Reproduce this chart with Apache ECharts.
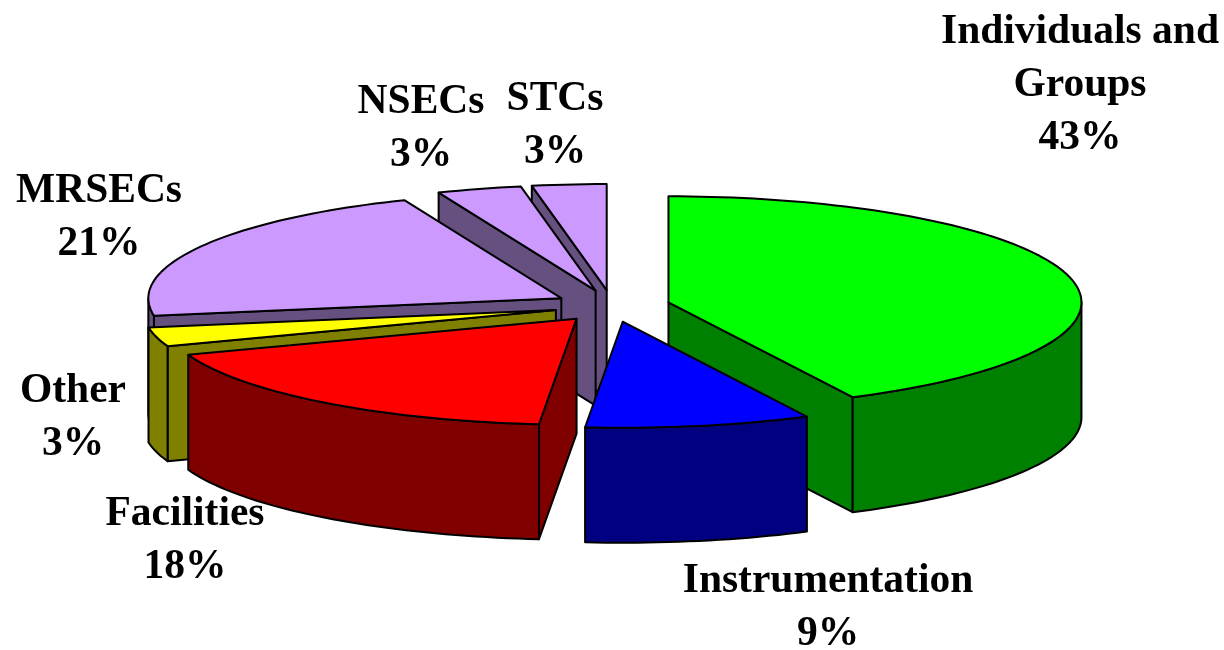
<!DOCTYPE html>
<html>
<head>
<meta charset="utf-8">
<style>html,body{margin:0;padding:0;background:#fff}#c{width:1224px;height:650px}</style>
<script src="https://cdn.jsdelivr.net/npm/echarts@6/dist/echarts.min.js"></script>
</head>
<body>
<div id="c"></div>
<script>
const categories = ['Individuals and\nGroups', 'Instrumentation', 'Facilities', 'Other', 'MRSECs', 'NSECs', 'STCs'];
const values = [42.6, 8.8, 18.0, 2.9, 21.4, 3.3, 2.9];
const percentLabels = ['43%', '9%', '18%', '3%', '21%', '3%', '3%'];
const topColors = ['#00FF00', '#0000FF', '#FF0000', '#FFFF00', '#CC99FF', '#CC99FF', '#CC99FF'];
const sideColors = ['#008000', '#000080', '#800000', '#808000', '#665080', '#665080', '#665080'];
const drawOrder = [6, 5, 4, 3, 2, 0, 1];
const labelCentres = [[1080, 85], [828, 608], [185, 541], [73, 418], [99, 218], [421, 129], [555, 126]];

const geom = { cx: 612, cy: 306, rx: 413, ry: 106, depth: 115, ex: 58, ey: 16 };
const total = values.reduce((a, b) => a + b, 0);
const spans = [];
values.reduce((acc, v) => { spans.push([acc / total * 360, (acc + v) / total * 360]); return acc + v; }, 0);

function rad(d) { return d * Math.PI / 180; }
function rimPoints(ax, ay, a0, a1, dy) {
  const n = Math.max(2, Math.ceil((a1 - a0) / 1.5));
  const pts = [];
  for (let i = 0; i <= n; i++) {
    const a = rad(a0 + (a1 - a0) * i / n);
    pts.push([ax + geom.rx * Math.sin(a), ay - geom.ry * Math.cos(a) + dy]);
  }
  return pts;
}
function poly(points, fill) {
  return { type: 'polygon', shape: { points }, style: { fill, stroke: '#000', lineWidth: 2, lineJoin: 'round' } };
}
function sliceShapes(i) {
  const [a0, a1] = spans[i];
  const mid = rad((a0 + a1) / 2);
  const ax = geom.cx + geom.ex * Math.sin(mid);
  const ay = geom.cy - geom.ey * Math.cos(mid);
  const d = geom.depth, side = sideColors[i];
  const kids = [];
  const radial = (ang) => {
    const p = rimPoints(ax, ay, ang, ang, 0)[0];
    return poly([[ax, ay], p, [p[0], p[1] + d], [ax, ay + d]], side);
  };
  if (Math.sin(rad(a1)) > 0) kids.push(radial(a1));
  if (Math.sin(rad(a0)) < -1e-6) kids.push(radial(a0));
  const w0 = Math.max(a0, 90), w1 = Math.min(a1, 270);
  if (w1 > w0) {
    const upper = rimPoints(ax, ay, w0, w1, 0);
    const lower = rimPoints(ax, ay, w0, w1, d).reverse();
    kids.push(poly(upper.concat(lower), side));
  }
  kids.push(poly([[ax, ay]].concat(rimPoints(ax, ay, a0, a1, 0)), topColors[i]));
  return kids;
}
function labelShape(i) {
  return {
    type: 'text',
    style: {
      x: labelCentres[i][0], y: labelCentres[i][1],
      text: categories[i] + '\n' + percentLabels[i],
      align: 'center', verticalAlign: 'middle',
      font: 'bold 41.5px "Liberation Serif"', lineHeight: 53, fill: '#000'
    }
  };
}
const chart = echarts.init(document.getElementById('c'), null, { renderer: 'canvas' });
chart.setOption({
  animation: false,
  backgroundColor: '#fff',
  series: [{
    type: 'custom',
    coordinateSystem: 'none',
    silent: true,
    data: drawOrder,
    renderItem: (params, api) => ({ type: 'group', children: sliceShapes(api.value(0)) })
  }, {
    type: 'custom',
    coordinateSystem: 'none',
    silent: true,
    z: 5,
    data: categories.map((c, i) => i),
    renderItem: (params, api) => labelShape(api.value(0))
  }]
});
</script>
</body>
</html>
